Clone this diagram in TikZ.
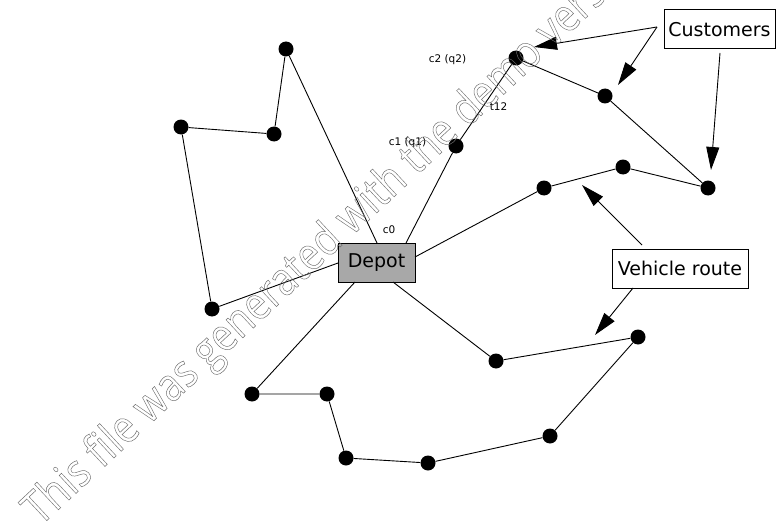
\documentclass[tikz,border=0pt]{standalone}
\usepackage{fontspec}
\usepackage{graphicx}
\setmainfont{DejaVu Sans}
\newfontfamily\wmfont{Open Sans}
\usetikzlibrary{arrows.meta}
\definecolor{depotgray}{RGB}{168,168,168}
\definecolor{wmgray}{RGB}{110,110,110}
\tikzset{
  dot/.style={circle,fill=black,inner sep=0pt,minimum size=15pt},
  route/.style={line width=0.9pt,black},
  bigbox/.style={draw=black,line width=1pt,inner sep=0pt,minimum height=39pt,font=\fontsize{19}{22}\selectfont},
  smalllabel/.style={inner sep=0pt,font=\fontsize{10.5}{12}\selectfont},
  pointer/.style={line width=0.9pt,-{Triangle[length=23pt,width=13pt]}}
}
\begin{document}
\begin{tikzpicture}[x=1pt,y=-1pt]
\useasboundingbox (0,0) rectangle (777,527);
% depot
\node[bigbox,fill=depotgray,minimum width=77pt] (depot) at (376.5,262.5) {Depot};
\coordinate (dA) at (377,243);
\coordinate (dC) at (406,243);
\coordinate (dR) at (415,257);
\coordinate (dL) at (338,263);
\coordinate (dBL) at (355,282);
\coordinate (dBR) at (393,282);
% customers
\node[dot] (L1) at (286,49) {};
\node[dot] (L2) at (274,134) {};
\node[dot] (L3) at (181,127) {};
\node[dot] (L4) at (212,309) {};
\node[dot] (C1) at (456,146) {};
\node[dot] (C2) at (516,58) {};
\node[dot] (C3) at (605,96) {};
\node[dot] (C4) at (708,188) {};
\node[dot] (C5) at (623,167) {};
\node[dot] (C6) at (544,188) {};
\node[dot] (B1) at (496,361) {};
\node[dot] (B2) at (638,337) {};
\node[dot] (B3) at (550,436) {};
\node[dot] (B4) at (428,463) {};
\node[dot] (B5) at (346,458) {};
\node[dot] (B6) at (327,394) {};
\node[dot] (B7) at (252,394) {};
% routes
\draw[route] (dA) -- (L1) -- (L2) -- (L3) -- (L4) -- (dL);
\draw[route] (dC) -- (C1) -- (C2) -- (C3) -- (C4) -- (C5) -- (C6) -- (dR);
\draw[route] (dBR) -- (B1) -- (B2) -- (B3) -- (B4) -- (B5) -- (B6) -- (B7) -- (dBL);
% small labels
\node[smalllabel] (lc2) at (447.5,60) {c2 (q2)};
\node[smalllabel] (lt12) at (498.5,107) {t12};
\node[smalllabel] (lc1) at (407.5,143) {c1 (q1)};
\node[smalllabel] (lc0) at (389,230) {c0};
% annotation boxes
\node[bigbox,fill=white,minimum width=111pt] (cust) at (719.5,29.5) {Customers};
\node[bigbox,fill=white,minimum width=136pt] (veh) at (680,268.5) {Vehicle route};
\coordinate (cs) at (657,27);
\coordinate (cs3) at (720,53);
\coordinate (vs1) at (642,245);
\coordinate (vs2) at (633,288);
\coordinate (t1) at (534,47);
\coordinate (t2) at (618,85);
\coordinate (t3) at (711,170);
\coordinate (t4) at (582,185);
\coordinate (t5) at (595,335);
\draw[pointer] (cs) -- (t1);
\draw[pointer] (cs) -- (t2);
\draw[pointer] (cs3) -- (t3);
\draw[pointer] (vs1) -- (t4);
\draw[pointer] (vs2) -- (t5);
% watermark
\begin{scope}
\clip (0,0) rectangle (777,527);
\node[anchor=base west,inner sep=0pt,rotate=43,text=wmgray] (wm) at (40,527)
  {\scalebox{0.85}[1]{\special{pdf:literal direct 1 Tr 0.5 w}\fontsize{46}{54}\wmfont This file was generated with the demo version\special{pdf:literal direct 0 Tr}}};
\end{scope}
\end{tikzpicture}
\end{document}
